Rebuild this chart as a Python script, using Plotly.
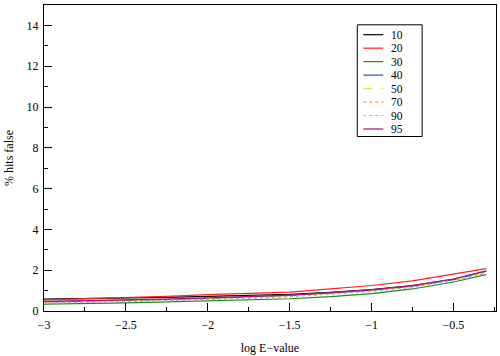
import plotly.graph_objects as go

x_vals = [-3, -2.75, -2.5, -2.25, -2, -1.75, -1.5, -1.25, -1, -0.75, -0.5, -0.3]
names = ["10", "20", "30", "40", "50", "70", "90", "95"]
s10 = [0.58, 0.60, 0.63, 0.67, 0.72, 0.76, 0.82, 0.92, 1.05, 1.25, 1.55, 1.95]
s20 = [0.55, 0.60, 0.66, 0.72, 0.80, 0.86, 0.93, 1.08, 1.25, 1.48, 1.80, 2.08]
s30 = [0.34, 0.36, 0.40, 0.45, 0.50, 0.55, 0.60, 0.70, 0.85, 1.08, 1.42, 1.78]
s40 = [0.45, 0.48, 0.52, 0.57, 0.62, 0.68, 0.76, 0.88, 1.02, 1.22, 1.55, 1.95]
s50 = [0.42, 0.45, 0.50, 0.55, 0.60, 0.66, 0.73, 0.85, 1.00, 1.20, 1.52, 1.90]
s70 = [0.40, 0.43, 0.48, 0.53, 0.58, 0.64, 0.72, 0.84, 0.98, 1.18, 1.50, 1.88]
s90 = [0.38, 0.41, 0.45, 0.50, 0.56, 0.62, 0.70, 0.82, 0.96, 1.16, 1.48, 1.85]
s95 = [0.47, 0.50, 0.54, 0.58, 0.64, 0.70, 0.78, 0.90, 1.04, 1.24, 1.57, 1.97]
series = [s10, s20, s30, s40, s50, s70, s90, s95]

colors = ["#000000", "#ff2020", "#1a8a1a", "#3050c0", "#f0e040", "#e0a060", "#a0b8d0", "#a01880"]
dashes = ["solid", "solid", "solid", "solid", "dash", "dot", "dot", "solid"]

font = "Liberation Serif"
fig = go.Figure()
for n, s, c, d in zip(names, series, colors, dashes):
    fig.add_trace(go.Scatter(x=x_vals, y=s, mode="lines", name=n,
                             line=dict(color=c, width=1.2, dash=d)))

# compact legend drawn in paper coordinates (plot area 453 x 309 px)
W, H = 453.0, 309.0
def px(xp): return (xp - 44) / W
def py(yp): return (314 - yp) / H

step = 13.6
shapes = [dict(type="rect", xref="paper", yref="paper",
               x0=px(358), x1=px(423), y0=py(26 + step * 8 + 3), y1=py(25),
               line=dict(color="black", width=1), fillcolor="white", layer="above")]
annotations = []
for i, (n, c, d) in enumerate(zip(names, colors, dashes)):
    yy = py(35 + step * i)
    shapes.append(dict(type="line", xref="paper", yref="paper",
                       x0=px(364), x1=px(384), y0=yy, y1=yy,
                       line=dict(color=c, width=1.2, dash=d), layer="above"))
    annotations.append(dict(xref="paper", yref="paper", x=px(391), y=yy,
                            text=n, showarrow=False, xanchor="left", yanchor="middle",
                            borderpad=0,
                            font=dict(family=font, size=11.5, color="black")))

fig.update_layout(
    width=500, height=356,
    margin=dict(l=44, r=3, t=5, b=42),
    paper_bgcolor="white", plot_bgcolor="white",
    font=dict(family=font, size=12, color="black"),
    showlegend=False,
    shapes=shapes, annotations=annotations,
    xaxis=dict(range=[-3, -0.24], showgrid=False, zeroline=False,
               showline=True, linecolor="black", linewidth=1, mirror=True,
               ticks="inside", ticklen=8, tickcolor="black", ticklabelstandoff=3,
               tickvals=[-3, -2.5, -2, -1.5, -1, -0.5],
               ticktext=["\u22123", "\u22122.5", "\u22122", "\u22121.5", "\u22121", "\u22120.5"],
               minor=dict(ticks="inside", ticklen=4, dtick=0.25, tick0=-3, tickcolor="black"),
               title=dict(text="log E\u2212value", font=dict(size=12), standoff=12)),
    yaxis=dict(range=[0, 15], showgrid=False, zeroline=False,
               showline=True, linecolor="black", linewidth=1, mirror=True,
               ticks="inside", ticklen=8, tickcolor="black", ticklabelstandoff=2,
               tickvals=[0, 2, 4, 6, 8, 10, 12, 14],
               minor=dict(ticks="inside", ticklen=4, dtick=1, tickcolor="black"),
               title=dict(text="% hits false", font=dict(size=12), standoff=10)),
)
fig.write_html("out.html")
